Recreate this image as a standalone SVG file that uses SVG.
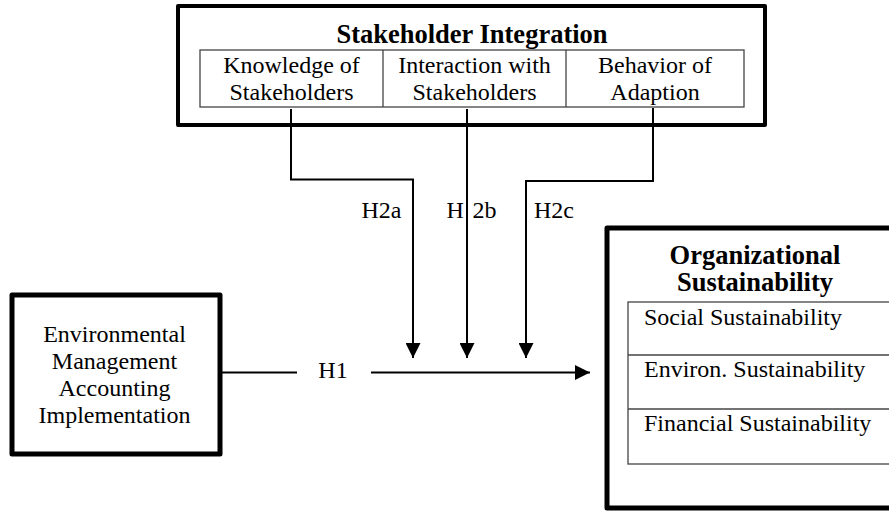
<svg xmlns="http://www.w3.org/2000/svg" width="889" height="511" viewBox="0 0 889 511">
  <style>
    text { font-family: "Liberation Serif", "Times New Roman", serif; fill: #000; }
    .t { font-size: 24px; }
    .b { font-size: 26.5px; font-weight: bold; }
    .mid { text-anchor: middle; }
    .outer { fill: #fff; stroke: #000; stroke-linejoin: round; }
    .cell { fill: none; stroke: #444; stroke-width: 1.3; }
    .conn { fill: none; stroke: #000; stroke-width: 2; }
  </style>
  <defs>
    <marker id="arrow" markerUnits="userSpaceOnUse" markerWidth="15" markerHeight="15" refX="15" refY="7.5" orient="auto">
      <path d="M0,0 L15,7.5 L0,15 z" fill="#000"/>
    </marker>
  </defs>
  <rect width="889" height="511" fill="#fff"/>

  <g id="stakeholder-integration">
    <rect class="outer" x="178" y="6" width="587" height="119" stroke-width="4"/>
    <text class="b mid" x="472" y="43">Stakeholder Integration</text>
    <rect class="cell" x="200" y="50" width="544" height="57"/>
    <line class="cell" x1="383" y1="50" x2="383" y2="107"/>
    <line class="cell" x1="566" y1="50" x2="566" y2="107"/>
    <text class="t mid" x="291.5" y="73">Knowledge of</text>
    <text class="t mid" x="291.5" y="100">Stakeholders</text>
    <text class="t mid" x="474.5" y="73">Interaction with</text>
    <text class="t mid" x="474.5" y="100">Stakeholders</text>
    <text class="t mid" x="655" y="73">Behavior of</text>
    <text class="t mid" x="655" y="100">Adaption</text>
  </g>

  <g id="ema">
    <rect class="outer" x="12" y="295" width="208" height="159" stroke-width="5"/>
    <text class="t mid" x="114.5" y="342">Environmental</text>
    <text class="t mid" x="114.5" y="369">Management</text>
    <text class="t mid" x="114.5" y="396">Accounting</text>
    <text class="t mid" x="114.5" y="423">Implementation</text>
  </g>

  <g id="organizational-sustainability">
    <rect class="outer" x="607" y="228" width="300" height="280" stroke-width="5"/>
    <text class="b mid" x="755" y="264">Organizational</text>
    <text class="b mid" x="755" y="291">Sustainability</text>
    <rect class="cell" x="628" y="302" width="280" height="162"/>
    <line class="cell" x1="628" y1="355" x2="889" y2="355"/>
    <line class="cell" x1="628" y1="409" x2="889" y2="409"/>
    <text class="t" x="644" y="325">Social Sustainability</text>
    <text class="t" x="644" y="377">Environ. Sustainability</text>
    <text class="t" x="644" y="431">Financial Sustainability</text>
  </g>

  <g id="connectors">
    <path class="conn" d="M291,109 V179.5 H413 V358" marker-end="url(#arrow)"/>
    <path class="conn" d="M467,109 V358" marker-end="url(#arrow)"/>
    <path class="conn" d="M653,108 V181 H526 V358" marker-end="url(#arrow)"/>
    <line class="conn" x1="220" y1="372.5" x2="297" y2="372.5"/>
    <line class="conn" x1="371" y1="372.5" x2="590" y2="372.5" marker-end="url(#arrow)"/>
    <text class="t mid" x="333" y="378">H1</text>
    <text class="t" x="361.5" y="218">H2a</text>
    <text class="t" x="446.5" y="218">H<tspan x="472.5">2b</tspan></text>
    <text class="t" x="534" y="218">H2c</text>
  </g>
</svg>
